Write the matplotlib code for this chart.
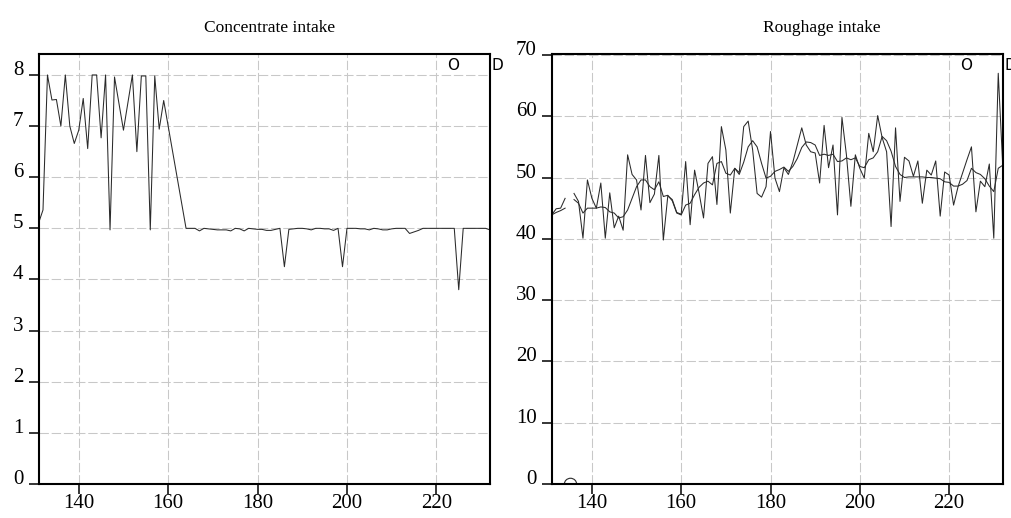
import matplotlib
matplotlib.use('Agg')
import matplotlib.pyplot as plt
import numpy as np

plt.rcParams.update({'font.family': 'Liberation Serif', 'font.size': 15})

LINE = '#2a2a2a'
GRID = '#c8c8c8'

days = list(range(131, 233))

concentrate = [
    5.10, 5.36, 8.00, 7.51, 7.52, 7.00, 8.00, 7.00, 6.66, 6.92,   # 131-140
    7.54, 6.56, 8.00, 8.00, 6.77, 8.00, 4.97, 7.96, 7.44, 6.92,   # 141-150
    7.46, 8.00, 6.50, 7.98, 7.98, 4.97, 7.98, 6.94, 7.50, 7.00,   # 151-160
    6.50, 6.00, 5.50, 5.00, 5.00, 5.00, 4.95, 5.00, 4.99, 4.98,   # 161-170
    4.97, 4.97, 4.97, 4.95, 5.00, 4.99, 4.95, 5.00, 4.99, 4.98,   # 171-180
    4.98, 4.96, 4.96, 4.98, 5.00, 4.25, 4.98, 4.99, 5.00, 5.00,   # 181-190
    4.99, 4.97, 5.00, 5.00, 4.99, 4.99, 4.96, 5.00, 4.25, 5.00,   # 191-200
    5.00, 5.00, 4.99, 4.99, 4.97, 5.00, 4.99, 4.97, 4.97, 4.99,   # 201-210
    5.00, 5.00, 5.00, 4.90, 4.93, 4.96, 5.00, 5.00, 5.00, 5.00,   # 211-220
    5.00, 5.00, 5.00, 5.00, 3.80, 5.00, 5.00, 5.00, 5.00, 5.00,   # 221-230
    5.00, 4.97,                                                   # 231-232
]

nan = np.nan
roughage = [
    43.9, 44.9, 45.0, 46.6, nan, 47.4, 46.1, 40.1, 49.6, 46.6,    # 131-140
    45.0, 49.1, 40.1, 47.5, 41.8, 43.7, 41.4, 53.7, 50.5, 49.6,   # 141-150
    44.7, 53.6, 45.9, 47.3, 53.6, 39.8, 47.0, 46.4, 44.3, 44.0,   # 151-160
    52.6, 42.3, 51.2, 47.5, 43.4, 52.3, 53.4, 45.6, 58.3, 54.5,   # 161-170
    44.2, 51.5, 50.8, 58.3, 59.2, 54.5, 47.4, 46.8, 48.5, 57.5,   # 171-180
    49.9, 47.7, 51.6, 50.5, 52.5, 55.3, 58.1, 55.3, 54.2, 54.0,   # 181-190
    49.1, 58.5, 51.6, 55.3, 43.9, 59.8, 53.7, 45.3, 53.7, 51.5,   # 191-200
    49.9, 57.2, 54.2, 60.1, 56.5, 54.2, 42.0, 58.1, 46.1, 53.3,   # 201-210
    52.7, 50.2, 52.7, 45.8, 51.2, 50.4, 52.7, 43.7, 50.9, 50.4,   # 211-220
    45.5, 48.5, 50.7, 52.9, 55.0, 44.4, 49.4, 48.5, 52.2, 40.1,   # 221-230
    67.0, 52.0,                                                   # 231-232
]

roughage_smooth = [
    43.9, 44.3, 44.6, 45.0, nan, 46.4, 45.8, 44.2, 45.0, 45.0,    # 131-140
    45.0, 45.2, 45.1, 44.4, 44.2, 43.4, 43.6, 44.7, 46.6, 48.5,   # 141-150
    49.6, 49.6, 48.5, 48.0, 49.3, 46.9, 47.1, 46.2, 44.2, 43.9,   # 151-160
    45.5, 45.8, 47.2, 48.4, 49.1, 49.4, 48.8, 52.3, 52.6, 50.7,   # 161-170
    50.4, 51.5, 50.5, 52.5, 55.0, 56.0, 55.0, 52.3, 49.9, 50.2,   # 171-180
    51.0, 51.3, 51.7, 51.0, 51.8, 53.1, 54.9, 55.8, 55.7, 55.3,   # 181-190
    53.6, 53.8, 53.6, 53.8, 52.6, 52.7, 53.2, 52.9, 53.2, 51.8,   # 191-200
    51.6, 52.9, 53.2, 54.2, 56.7, 56.0, 54.3, 51.8, 50.5, 50.0,   # 201-210
    50.1, 50.1, 50.1, 50.1, 50.0, 50.0, 49.9, 49.8, 49.3, 49.2,   # 211-220
    48.6, 48.6, 48.9, 49.5, 51.5, 50.8, 50.5, 49.8, 48.6, 47.7,   # 221-230
    51.5, 52.0,                                                   # 231-232
]

missing_day = [135]
missing_val = [0]

x_ticks = [140, 160, 180, 200, 220]
conc_ticks = [0, 1, 2, 3, 4, 5, 6, 7, 8]
rough_ticks = [0, 10, 20, 30, 40, 50, 60, 70]

fig = plt.figure(figsize=(10.11, 5.18), dpi=100)
ax1 = fig.add_axes([0.0381, 0.0656, 0.4466, 0.8302])
ax2 = fig.add_axes([0.5457, 0.0656, 0.4461, 0.8302])


def style(ax, yticks, ylim):
    ax.set_xlim(131, 232)
    ax.set_ylim(*ylim)
    ax.set_xticks(x_ticks)
    ax.set_yticks(yticks)
    ax.grid(True, color=GRID, linewidth=0.75, linestyle=(0, (9, 2.7)))
    ax.set_axisbelow(True)
    for s in ax.spines.values():
        s.set_linewidth(1.5)
        s.set_color('black')
    ax.tick_params(axis='both', direction='out', length=7.5, width=1.1,
                   labelsize=15)
    ax.tick_params(axis='x', pad=0)
    ax.tick_params(axis='y', pad=3.5)
    for lab in ax.get_yticklabels():
        lab.set_va('baseline')
    # corner markers
    ax.text(0.918, 0.974, 'O', transform=ax.transAxes, ha='center',
            va='center', fontsize=11, family='DejaVu Sans')
    ax.text(1.003, 0.974, 'D', transform=ax.transAxes, ha='left',
            va='center', fontsize=11, family='DejaVu Sans', clip_on=False)


ax1.plot(days, concentrate, color=LINE, linewidth=0.75)
style(ax1, conc_ticks, (0, 8.41))

ax2.plot(days, roughage, color=LINE, linewidth=0.75)
ax2.plot(days, roughage_smooth, color=LINE, linewidth=0.75)
ax2.plot(missing_day, missing_val, linestyle='none', marker='o', ms=9,
         mfc='none', mec=LINE, mew=0.8)
style(ax2, rough_ticks, (0, 70.15))

fig.text(270 / 1011, 1 - 28 / 518, 'Concentrate intake', ha='center',
         va='center', fontsize=12.5)
fig.text(822 / 1011, 1 - 28 / 518, 'Roughage intake', ha='center',
         va='center', fontsize=12.5)

fig.savefig('out.png', dpi=100)
